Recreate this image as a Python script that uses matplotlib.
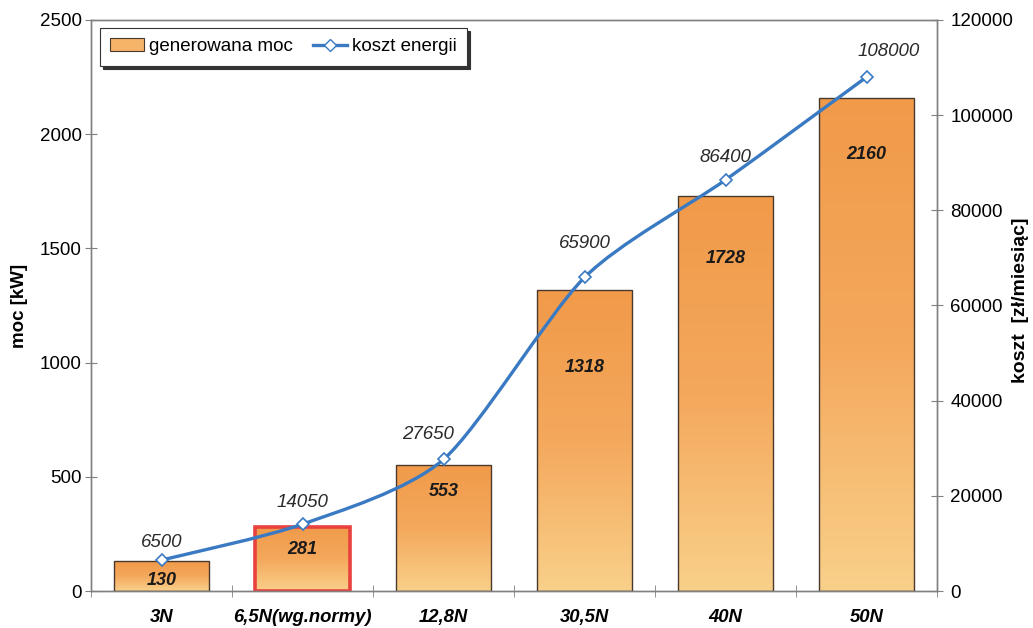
import numpy as np
import matplotlib.pyplot as plt
from matplotlib.path import Path
from matplotlib.patches import PathPatch, Rectangle
from matplotlib.colors import LinearSegmentedColormap

plt.rcParams['font.family'] = ['Liberation Sans', 'DejaVu Sans']

kategorie = ['3N', '6,5N(wg.normy)', '12,8N', '30,5N', '40N', '50N']
moc = [130, 281, 553, 1318, 1728, 2160]
koszt = [6500, 14050, 27650, 65900, 86400, 108000]

# przesuniecia etykiet (px): slupki w dol od wierzcholka, linia (dx, dy)
off_moc = [19, 23, 27, 78, 62, 57]
off_koszt = [(0, 18), (0, 22), (-15, 25), (0, 34), (0, 22), (22, 26)]

szary = '#808080'
niebieski = '#3a7ac2'

fig = plt.figure(figsize=(10.33, 6.28), dpi=100)
ax = fig.add_axes([91/1033, 37/628, 846/1033, 571/628])
ax2 = ax.twinx()

x = np.arange(len(kategorie))
szer = 0.67

grad = LinearSegmentedColormap.from_list('gr', ['#f9d08a', '#f4a85c', '#f19a4a'])
tlo = np.linspace(0, 1, 256).reshape(-1, 1)

bary = ax.bar(x, moc, szer, color='none', edgecolor='#4a3a2e', linewidth=1.0, zorder=3)
for i, b in enumerate(bary):
    x0, y0 = b.get_x(), b.get_y()
    w, h = b.get_width(), b.get_height()
    im = ax.imshow(tlo, cmap=grad, aspect='auto', origin='lower',
                   extent=[x0, x0 + w, y0, y0 + h], zorder=2, interpolation='bicubic')
    clip = Rectangle((x0, y0), w, h, transform=ax.transData)
    im.set_clip_path(clip)
    if i == 1:
        b.set_edgecolor('#e8413e')
        b.set_linewidth(2.6)
    ax.annotate(str(moc[i]), (x[i], moc[i]), xytext=(0, -off_moc[i]),
                textcoords='offset pixels', ha='center', va='center',
                fontsize=13, fontweight='bold', fontstyle='italic', color='#1a1a1a', zorder=5)

ax.set_xlim(-0.5, len(kategorie) - 0.5)
ax.set_ylim(0, 2500)
ax.set_yticks(range(0, 2501, 500))
ax2.set_ylim(0, 120000)
ax2.set_yticks(range(0, 120001, 20000))

# wygladzona linia kosztu (krzywe Beziera przez punkty)
pts = np.column_stack([x, koszt]).astype(float)
verts = [pts[0]]
codes = [Path.MOVETO]
for i in range(len(pts) - 1):
    p0 = pts[max(i - 1, 0)]
    p1 = pts[i]
    p2 = pts[i + 1]
    p3 = pts[min(i + 2, len(pts) - 1)]
    c1 = p1 + (p2 - p0) / 8
    c2 = p2 - (p3 - p1) / 8
    verts += [c1, c2, p2]
    codes += [Path.CURVE4] * 3
ax2.add_patch(PathPatch(Path(verts, codes), facecolor='none', edgecolor=niebieski,
                        linewidth=2.4, zorder=4))
ax2.plot(x, koszt, linestyle='none', marker='D', markersize=6, markerfacecolor='white',
         markeredgecolor=niebieski, markeredgewidth=1.2, zorder=5)
ax2.plot([], [], color=niebieski, linewidth=2.4, marker='D', markersize=6,
         markerfacecolor='white', markeredgecolor=niebieski, label='koszt energii')

for i, v in enumerate(koszt):
    ax2.annotate(str(v), (x[i], v), xytext=off_koszt[i], textcoords='offset pixels',
                 ha='center', va='center', fontsize=13.5, fontstyle='italic', color='#2a2a2a')

ax.set_xticks(x)
ax.set_xticklabels(kategorie, fontsize=13.3, fontweight='bold', fontstyle='italic')
ax.set_xticks(np.arange(-0.5, len(kategorie)), minor=True)
ax.tick_params(axis='x', which='major', length=0, pad=13)
ax.tick_params(axis='x', which='minor', direction='inout', length=9, color=szary)
ax.tick_params(axis='y', direction='inout', length=9, color=szary, labelsize=13.5, pad=2)
ax2.tick_params(axis='y', direction='inout', length=9, color=szary, labelsize=13.5, pad=5)

for a in (ax, ax2):
    for s in a.spines.values():
        s.set_color(szary)
        s.set_linewidth(1.0)

ax.set_ylabel('moc [kW]', fontsize=13.5, fontweight='bold')
ax.yaxis.set_label_coords(-0.075, 0.5)
ax2.set_ylabel('koszt  [zł/miesiąc]', fontsize=14, fontweight='bold', rotation=90)
ax2.yaxis.set_label_coords(1.089, 0.51)

legenda_moc = Rectangle((0, 0), 1, 1, facecolor='#f5b468', edgecolor='#4a3a2e', linewidth=0.8)
uchwyty = [legenda_moc] + ax2.get_legend_handles_labels()[0]
leg = ax2.legend(uchwyty, ['generowana moc', 'koszt energii'], ncol=2, loc='upper left',
                 bbox_to_anchor=(9/846, 1 - 8/571), borderaxespad=0, fontsize=13.5,
                 frameon=True, fancybox=False, shadow={'color': '#333333', 'alpha': 1},
                 edgecolor='#333333', borderpad=0.55, columnspacing=1.1,
                 handlelength=1.8, handletextpad=0.25)
leg.get_frame().set_linewidth(0.8)

ax.set_zorder(1)
ax2.set_zorder(2)
ax2.patch.set_visible(False)

fig.savefig('out.png', dpi=100)
